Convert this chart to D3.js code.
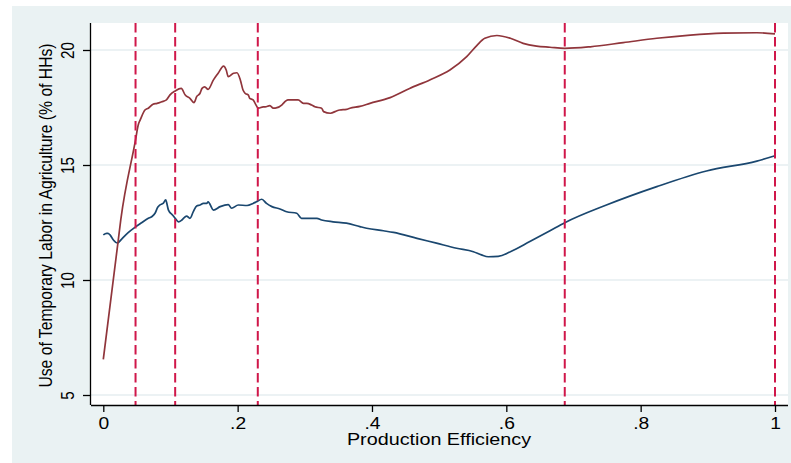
<!DOCTYPE html>
<html>
<head>
<meta charset="utf-8">
<script src="https://cdn.jsdelivr.net/npm/d3@7"></script>
<style>
  html, body { margin: 0; padding: 0; background: #ffffff; }
  svg { display: block; }
  text { font-family: "Liberation Sans", Arial, Helvetica, sans-serif; fill: #000; }
</style>
</head>
<body>
<svg id="chart" width="791" height="463"></svg>
<script>
// Upper curve (maroon)
const upperX = [0.000, 0.022, 0.026, 0.048, 0.052, 0.055, 0.062, 0.067, 0.074, 0.080, 0.087, 0.094, 0.099, 0.107,
  0.116, 0.122, 0.129, 0.135, 0.139, 0.144, 0.147, 0.151, 0.156, 0.164, 0.169, 0.171, 0.179, 0.183, 0.186, 0.194,
  0.199, 0.204, 0.208, 0.211, 0.216, 0.218, 0.223, 0.226, 0.231, 0.238, 0.241, 0.248, 0.253, 0.256, 0.266, 0.268,
  0.275, 0.290, 0.298, 0.303, 0.310, 0.315, 0.325, 0.328, 0.338, 0.348, 0.352, 0.362, 0.367, 0.382, 0.397, 0.427,
  0.456, 0.486, 0.516, 0.541, 0.556, 0.568, 0.586, 0.606, 0.625, 0.645, 0.665, 0.687, 0.725, 0.774, 0.824, 0.874,
  0.923, 0.973, 1.000];
const upperY = [6.55, 11.67, 12.61, 16.09, 16.74, 16.96, 17.39, 17.47, 17.64, 17.68, 17.75, 17.83, 18.04, 18.22,
  18.33, 18.04, 17.90, 17.71, 17.97, 18.12, 18.33, 18.40, 18.29, 18.70, 18.91, 18.99, 19.30, 19.13, 18.84, 18.99,
  19.01, 18.70, 18.26, 18.12, 18.04, 17.90, 17.83, 17.68, 17.47, 17.53, 17.53, 17.58, 17.47, 17.47, 17.61, 17.68,
  17.83, 17.83, 17.68, 17.68, 17.61, 17.53, 17.47, 17.32, 17.25, 17.36, 17.39, 17.42, 17.47, 17.55, 17.68, 17.93,
  18.33, 18.70, 19.13, 19.71, 20.19, 20.51, 20.63, 20.51, 20.29, 20.17, 20.12, 20.07, 20.14, 20.32, 20.51, 20.65,
  20.73, 20.75, 20.70];

// Lower curve (navy)
const lowerX = [0.000, 0.005, 0.007, 0.010, 0.015, 0.021, 0.022, 0.027, 0.037, 0.047, 0.057, 0.067, 0.072, 0.077,
  0.081, 0.084, 0.089, 0.093, 0.094, 0.097, 0.103, 0.107, 0.112, 0.117, 0.122, 0.124, 0.129, 0.134, 0.139, 0.144,
  0.149, 0.154, 0.156, 0.164, 0.174, 0.186, 0.191, 0.201, 0.214, 0.223, 0.228, 0.236, 0.243, 0.251, 0.263, 0.273,
  0.288, 0.295, 0.308, 0.318, 0.325, 0.342, 0.362, 0.382, 0.392, 0.417, 0.432, 0.467, 0.496, 0.526, 0.551, 0.563,
  0.573, 0.588, 0.606, 0.635, 0.665, 0.687, 0.749, 0.824, 0.898, 0.973, 1.000];
const lowerY = [11.96, 12.03, 12.03, 11.96, 11.74, 11.61, 11.62, 11.77, 12.06, 12.29, 12.49, 12.68, 12.75, 12.90,
  13.16, 13.26, 13.33, 13.48, 13.40, 13.04, 12.83, 12.68, 12.53, 12.61, 12.75, 12.78, 12.68, 12.97, 13.22, 13.26,
  13.33, 13.33, 13.40, 13.04, 13.19, 13.28, 13.12, 13.26, 13.24, 13.33, 13.40, 13.51, 13.33, 13.19, 13.09, 12.97,
  12.90, 12.68, 12.68, 12.68, 12.61, 12.53, 12.47, 12.32, 12.25, 12.14, 12.07, 11.81, 11.60, 11.38, 11.23, 11.09,
  11.01, 11.03, 11.23, 11.67, 12.14, 12.49, 13.26, 14.06, 14.74, 15.17, 15.40];

// Efficiency cut-offs marked with dashed reference lines
const cutoffs = [0.048, 0.107, 0.230, 0.687, 1.0];

const xTicks = [0, 0.2, 0.4, 0.6, 0.8, 1];
const xTickLabels = ["0", ".2", ".4", ".6", ".8", "1"];
const yTicks = [5, 10, 15, 20];
const yTickLabels = ["5", "10", "15", "20"];

const xTitle = "Production Efficiency";
const yTitle = "Use of Temporary Labor in Agriculture (% of HHs)";

// ---- layout ----
const svg = d3.select("#chart");
const plot = { left: 91, right: 788, top: 23, bottom: 405 };
const stretch = 1.22;   // horizontal glyph stretch

const x = d3.scaleLinear().domain([0, 1]).range([103.3, 775]);
const y = d3.scaleLinear().domain([5, 20]).range([395, 50]);

// graph region and plot region
svg.append("rect").attr("x", 12).attr("y", 6).attr("width", 791 - 12).attr("height", 463 - 6)
  .attr("fill", "#eaf2f3");
svg.append("rect").attr("x", plot.left).attr("y", plot.top)
  .attr("width", plot.right - plot.left).attr("height", plot.bottom - plot.top)
  .attr("fill", "#ffffff");

// horizontal grid
svg.append("g").selectAll("line").data(yTicks).join("line")
  .attr("x1", plot.left).attr("x2", plot.right)
  .attr("y1", d => y(d)).attr("y2", d => y(d))
  .attr("stroke", "#e6eef0").attr("stroke-width", 1.4);

// curves
const upper = upperX.map((v, i) => [v, upperY[i]]);
const lower = lowerX.map((v, i) => [v, lowerY[i]]);
const line = d3.line().curve(d3.curveMonotoneX).x(d => x(d[0])).y(d => y(d[1]));

svg.append("path").datum(lower).attr("d", line)
  .attr("fill", "none").attr("stroke", "#1a476f").attr("stroke-width", 1.7)
  .attr("stroke-linejoin", "round");
svg.append("path").datum(upper).attr("d", line)
  .attr("fill", "none").attr("stroke", "#90353b").attr("stroke-width", 1.7)
  .attr("stroke-linejoin", "round");

// cut-off reference lines
svg.append("g").selectAll("line").data(cutoffs).join("line")
  .attr("x1", d => x(d)).attr("x2", d => x(d))
  .attr("y1", plot.top).attr("y2", plot.bottom)
  .attr("stroke", "#d0174a").attr("stroke-width", 2)
  .attr("stroke-dasharray", "9.5,4.5");

// axes
const xAxis = d3.axisBottom(x).tickValues(xTicks).tickSize(7).tickFormat((d, i) => xTickLabels[i]);
const gx = svg.append("g").attr("transform", `translate(0,${plot.bottom})`).call(xAxis);
gx.select(".domain").attr("d", `M${plot.left},0.5H${plot.right}`).attr("stroke", "#000").attr("stroke-width", 1.3);
gx.selectAll(".tick line").attr("stroke", "#000").attr("stroke-width", 1.3);
gx.selectAll(".tick text")
  .attr("y", 0).attr("dy", null)
  .attr("transform", `translate(0,23.5) scale(${stretch},1)`)
  .attr("font-size", 15.8).attr("font-family", "Liberation Sans, Arial, sans-serif").attr("fill", "#000");

const yAxis = d3.axisLeft(y).tickValues(yTicks).tickSize(8).tickFormat((d, i) => yTickLabels[i]);
const gy = svg.append("g").attr("transform", `translate(${plot.left},0)`).call(yAxis);
gy.select(".domain").attr("d", `M-0.5,${plot.top}V${plot.bottom}`).attr("stroke", "#000").attr("stroke-width", 1.3);
gy.selectAll(".tick line").attr("stroke", "#000").attr("stroke-width", 1.3);
gy.selectAll(".tick text")
  .attr("x", 0).attr("dy", null)
  .attr("text-anchor", "middle")
  .attr("transform", `translate(-17,0) scale(${stretch},1) rotate(-90)`)
  .attr("font-size", 15.2).attr("font-family", "Liberation Sans, Arial, sans-serif").attr("fill", "#000");

// axis titles
svg.append("text")
  .attr("transform", `translate(439,445) scale(${stretch},1)`)
  .attr("text-anchor", "middle").attr("font-size", 16.2)
  .text(xTitle);

svg.append("text")
  .attr("transform", `translate(51.5,215.5) scale(${stretch},1) rotate(-90)`)
  .attr("text-anchor", "middle").attr("font-size", 15.7)
  .text(yTitle);
</script>
</body>
</html>
